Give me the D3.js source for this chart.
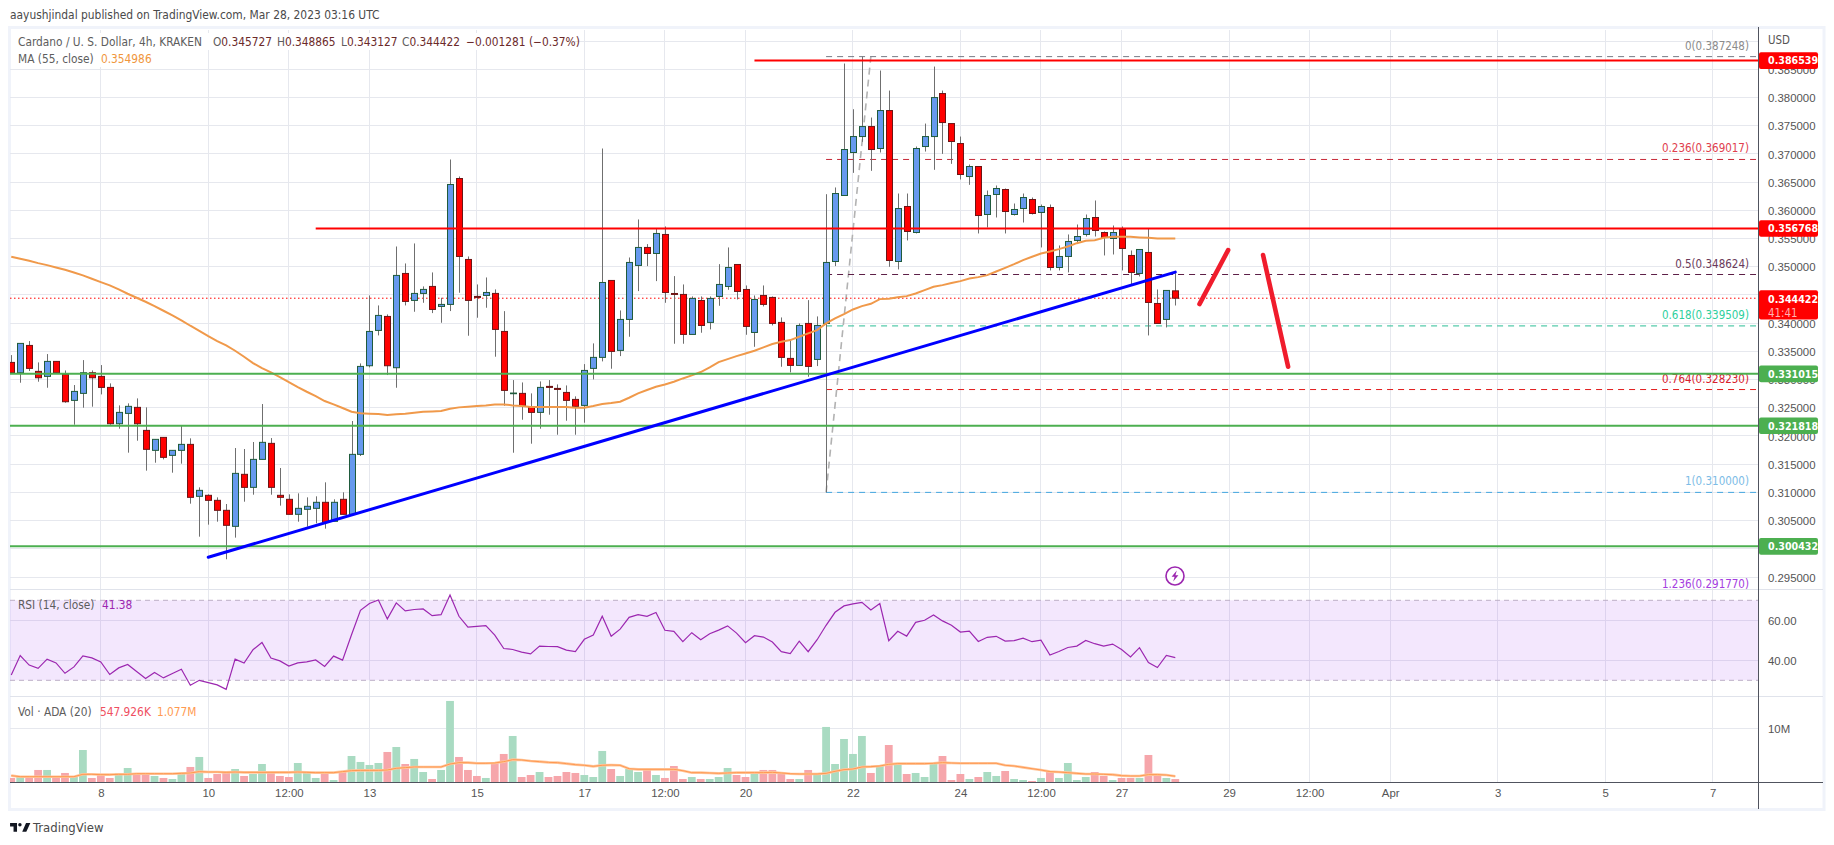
<!DOCTYPE html>
<html>
<head>
<meta charset="utf-8">
<title>Cardano / U.S. Dollar, 4h</title>
<script src="https://cdn.jsdelivr.net/npm/d3@7/dist/d3.min.js"></script>
<style>
  html, body { margin: 0; padding: 0; background: #fff; overflow: hidden; }
  svg { display: block; font-family: "DejaVu Sans Condensed", "DejaVu Sans", sans-serif; font-stretch: condensed; }
  text { font-size: 11.4px; fill: #555; }
  .tick text { font-size: 11.4px; fill: #555; }
</style>
</head>
<body>
<svg id="chart" width="1834" height="845"></svg>
<script>
// ADA/USD 4h candles, oldest first; the last bar closes the series at 28 Mar 00:00 UTC.
const opens = [
  .33304,.33121,.33605,.33145,.33056,.33322,.33092,.32631,.32755,.33121,
  .33056,.32861,.32217,.324,.32507,.32099,.31745,.31975,.31656,.31745,
  .31851,.3093,.30948,.30859,.30682,.30398,.3132,.31089,.31585,.31869,
  .30948,.30877,.30611,.307,.30717,.30824,.30487,.30877,.30611,.31674,
  .33245,.33871,.34119,.3321,.34881,.34403,.34527,.34651,.34296,.34332,
  .36564,.35129,.34474,.34491,.34527,.33853,.32749,.32755,.32507,.32418,
  .32879,.32843,.32772,.32648,.32542,.33198,.33393,.34757,.33517,.34066,
  .35023,.35342,.35235,.35572,.34526,.34509,.338,.34402,.34013,.34473,
  .3465,.3504,.34597,.33835,.34491,.34456,.34013,.33375,.33251,.33995,
  .33357,.33995,.35093,.36263,.37025,.37308,.37485,.37096,.37769,.35093,
  .36068,.35607,.37131,.37308,.3807,.37538,.37184,.36599,.36777,.35926,
  .36281,.36369,.35926,.36032,.36192,.35962,.3605,.34987,.35182,.35466,
  .35572,.35873,.35607,.35501,.3566,.352,.34881,.35253,.34349,.34066,.345727
];
const highs = [
  .33434,.33641,.33682,.33304,.33452,.33322,.33162,.32903,.33345,.33162,
  .33257,.32932,.32542,.32578,.32666,.32507,.3194,.31975,.31745,.32176,
  .31958,.31089,.30965,.30912,.30794,.31786,.31769,.31893,.32566,.31963,
  .31432,.30965,.30983,.30912,.3093,.31178,.30877,.31001,.32265,.33286,
  .34491,.34314,.34155,.35359,.35058,.35413,.34651,.34899,.3445,.36901,
  .366,.35182,.34686,.3481,.34598,.34213,.32991,.32949,.32755,.32967,
  .32991,.32914,.32896,.32702,.33274,.33641,.37096,.34757,.34225,.35164,
  .35838,.35401,.35672,.35714,.34834,.34686,.34473,.34473,.34473,.35046,
  .35342,.3504,.34668,.34491,.34668,.34473,.34101,.33711,.33995,.34408,
  .34119,.36286,.36405,.38602,.37792,.387248,.37645,.38478,.38123,.36298,
  .36298,.37131,.37538,.38548,.38123,.37538,.37308,.36812,.36777,.36351,
  .3644,.36387,.36121,.36298,.36227,.36103,.36103,.35377,.35572,.35749,
  .35926,.36174,.35625,.35731,.35714,.35288,.35306,.35678,.34597,.3458,.348865
];
const lows = [
  .33121,.32944,.33151,.32962,.32855,.33121,.32589,.322,.32501,.32519,
  .32737,.322,.32129,.31704,.31916,.31385,.31526,.31585,.31349,.31509,
  .308,.30215,.30428,.30481,.29814,.30198,.30835,.30959,.31585,.30959,
  .30765,.30611,.30481,.30392,.30452,.30357,.30487,.30611,.30611,.31645,
  .33216,.33783,.3308,.32855,.34314,.34202,.34361,.34178,.34007,.34214,
  .34539,.33777,.34096,.34273,.33405,.32536,.31703,.32288,.31863,.32129,
  .32377,.32022,.3227,.32022,.32235,.33003,.33322,.33192,.33416,.33759,
  .34568,.35011,.34745,.34361,.33635,.33635,.338,.3383,.33889,.34308,
  .34591,.3442,.33794,.33581,.34296,.33959,.33227,.33127,.33251,.3305,
  .33239,.31,.35011,.36263,.36664,.37214,.367,.37025,.34999,.34952,
  .35466,.3559,.37042,.36718,.37001,.36824,.36546,.36452,.3559,.35696,
  .35873,.3559,.35908,.35784,.35926,.35342,.34934,.34934,.34899,.3543,
  .35536,.35536,.352,.35217,.34934,.34686,.34828,.33782,.33995,.33924,.343127
];
const closes = [
  .33121,.33641,.33198,.33032,.33322,.33121,.32607,.3279,.33121,.33032,
  .32861,.32217,.32418,.32525,.32217,.31763,.3194,.31621,.31745,.31851,
  .30912,.31036,.30859,.30682,.30416,.31337,.31089,.31585,.31887,.31089,
  .30912,.30611,.30717,.30753,.30824,.30469,.30824,.30611,.31674,.33233,
  .33853,.34137,.33245,.34846,.34385,.34527,.34598,.34243,.34332,.36458,
  .35182,.34403,.34456,.34544,.33889,.32808,.32761,.32536,.32418,.32861,
  .32861,.32825,.32631,.32524,.33162,.33393,.34721,.33499,.34066,.35076,
  .35342,.35235,.3559,.34544,.34509,.338,.34438,.33959,.34438,.34686,
  .34987,.34562,.33942,.3442,.34332,.33995,.33393,.33251,.33959,.33233,
  .33959,.35076,.36298,.37078,.37308,.37485,.37078,.37769,.35111,.36032,
  .35625,.37096,.37308,.37999,.37556,.3722,.36635,.36777,.35908,.36263,
  .36387,.35979,.36015,.36227,.35944,.36068,.34987,.35182,.35448,.35536,
  .35855,.35643,.35519,.35607,.35324,.34899,.35306,.34367,.33995,.3458,.344422
];
// 55-period moving average of the close.
const ma55 = [
  .35176,.35141,.35106,.35064,.35029,.34987,.34946,.34899,.34846,.34787,
  .34728,.34669,.34598,.34521,.3445,.34379,.34302,.3422,.34137,.34048,
  .33954,.33865,.33771,.33682,.33605,.33511,.33405,.33292,.33204,.33127,
  .33044,.32956,.32867,.32784,.32708,.32619,.3256,.32495,.3243,.32401,
  .32395,.32389,.32371,.32383,.32395,.32412,.3243,.32436,.32442,.32483,
  .32507,.32519,.32531,.32542,.3256,.3256,.32542,.3253,.32513,.32513,
  .32513,.32513,.32513,.32501,.32501,.3253,.32566,.32583,.32607,.32678,
  .32755,.32814,.32873,.32914,.32961,.3302,.33074,.33133,.33215,.3331,
  .33363,.33416,.33463,.33511,.3357,.33629,.3367,.337,.33759,.33818,
  .33877,.33995,.34083,.3416,.34243,.34302,.34343,.34426,.34432,.34461,
  .34479,.34526,.34585,.34645,.34674,.3471,.34745,.34792,.34816,.34851,
  .34916,.34981,.35046,.35117,.35176,.35235,.35271,.35312,.35359,.35418,
  .3546,.35471,.35513,.3553,.3553,.3553,.3552,.35513,.35501,.35501,.354986
];
// RSI(14) of the close.
const rsi14 = [
  32.7,42.4,37.6,36,40.6,38.7,33.5,36.7,42.2,41.2,
  39.2,32.9,36.2,37.9,34.4,30.9,33.9,31.2,33.4,35.5,
  27.5,30,28.8,27.7,25.5,40.6,38.6,45.3,48.9,41.1,
  39.7,37.1,38.7,39.2,40.2,36.9,42.1,40.1,52.8,65,
  68.4,70.2,60.7,68.7,64.7,65.4,65.7,62.3,62.8,72.7,
  62,56.6,57,57.3,52.6,45.9,45.4,44.1,43.2,47.1,
  46.9,46.8,45.1,44.3,50.5,52.6,62,52,55.6,61.5,
  62.8,62,63.9,55,54.5,49.3,53.8,50.3,53.3,55.1,
  57.2,53.6,48.8,52.3,51.6,49.1,44.3,43.4,49.6,44.3,
  50.3,57.5,64,67.2,68.2,69,65.2,68.4,49.8,54.5,
  52.1,59,60,62.7,59.7,57.5,54.1,54.6,49.4,51.5,
  52,49.6,49.8,51.1,49.3,50.1,42.6,44.4,46.4,47.1,
  49.9,48.3,47.1,48.1,45.4,41.7,46.3,38.9,36.4,42.4,41.38
];
// Traded volume, in millions of ADA.
const volumes = [
  .75,1.12,.75,2.24,2.24,.75,1.68,1.12,5.96,.75,
  1.3,.75,1.68,2.61,1.49,1.68,1.12,.75,.56,1.68,
  2.8,4.66,.75,1.49,1.86,2.42,1.12,1.49,3.35,2.05,
  1.12,.93,3.54,1.68,.75,1.49,.37,2.05,4.84,3.73,
  3.17,3.54,5.59,6.52,3.35,4.29,1.86,.56,2.24,15.09,
  4.66,2.24,1.12,.75,3.54,5.22,8.57,.93,1.3,1.86,
  .93,1.12,1.86,1.68,1.3,.93,5.78,2.42,1.12,2.42,
  1.86,2.42,1.3,.75,2.98,.56,.93,.56,.56,.93,
  2.61,1.3,.93,1.68,2.24,2.24,1.86,.56,.56,2.24,
  1.68,10.25,3.35,8.01,5.22,8.57,1.68,3.17,6.89,3.54,
  1.49,1.68,.93,3.54,4.84,.37,1.49,.56,.93,1.86,
  1.12,2.05,.56,.37,.19,.75,2.05,.75,3.54,.37,
  .93,1.86,1.12,.37,.75,.75,.75,5.03,1.12,.75,.547926
];
// 20-period moving average of the volume, in millions.
const volumeMa = [
  1.18,.99,.99,.99,.99,.99,.99,.99,1.43,1.43,
  1.37,1.37,1.43,1.43,1.55,1.55,1.55,1.55,1.55,1.61,
  1.68,1.93,1.86,1.86,1.8,1.86,1.8,1.8,1.8,1.8,
  1.8,1.8,1.86,1.8,1.74,1.74,1.74,1.93,2.11,2.17,
  2.17,2.17,2.24,2.55,2.67,2.8,2.8,2.8,2.8,3.35,
  3.6,3.6,3.48,3.48,3.54,3.79,4.16,4.1,3.91,3.79,
  3.66,3.6,3.42,3.23,3.11,2.92,3.11,3.17,3.11,2.48,
  2.36,2.36,2.36,2.36,2.36,2.11,1.74,1.74,1.68,1.61,
  1.68,1.74,1.74,1.74,1.74,1.8,1.68,1.55,1.49,1.49,
  1.49,1.61,1.99,2.3,2.42,2.8,2.86,2.98,3.29,3.42,
  3.42,3.42,3.42,3.48,3.6,3.54,3.48,3.48,3.48,3.48,
  3.48,3.11,2.98,2.73,2.48,2.24,1.93,1.86,1.74,1.61,
  1.49,1.49,1.43,1.37,1.18,1.12,1.12,1.37,1.37,1.3,1.077
];

const priceTicks = [.295,.3,.305,.31,.315,.32,.325,.33,.335,.34,.345,.35,.355,.36,.365,.37,.375,.38,.385];
const rsiTicks = [40, 60];
const volumeTicks = [10];
// Time axis: label and day of March 2023 (12:00 marks fall on half days).
const timeLabels = ["8","10","12:00","13","15","17","12:00","20","22","24","12:00","27","29","12:00","Apr","3","5","7"];
const timeDays = [8,10,11.5,13,15,17,18.5,20,22,24,25.5,27,29,30.5,32,34,36,38];

// Horizontal support and resistance levels.
const resistanceLevels = [.386539, .356768];
const supportLevels = [.331015, .321818, .300432];
const levelStartBars = [83, 34, 0, 0, 0];

// Fibonacci retracement, anchored between bars 91 and 96.
const fibRatios = ["0","0.236","0.5","0.618","0.764","1","1.236"];
const fibPrices = [.387248,.369017,.348624,.339509,.32823,.31,.29177];
const fibColors = ["#787b86","#c62838","#5d1f47","#2bbd95","#e31c1c","#42a5e0","#9c27d8"];
const fibTextColors = ["#8b8b8b","#e0404e","#6b3a5a","#2fcf9d","#d8202c","#7cbce6","#a43de0"];

// Hand-drawn annotations in bar/price coordinates.
const trendFrom = { bar: 22, price: .2985 };
const trendTo = { bar: 130, price: .34905 };
const arrowUp = [{ bar: 132.7, price: .34338 }, { bar: 135.9, price: .35294 }];
const arrowDown = [{ bar: 139.8, price: .35206 }, { bar: 142.6, price: .33227 }];

const lastDay = 28;
const barDate = i => new Date(Date.UTC(2023, 2, 1) + (lastDay - 1 - (opens.length - 1 - i) / 6) * 864e5);
const dayDate = d => new Date(Date.UTC(2023, 2, 1) + (d - 1) * 864e5);

const plot = { left: 10, right: 1758, top: 30, mainBottom: 589, rsiBottom: 696, bottom: 782, outer: 1823 };

const x = d3.scaleUtc().domain([dayDate(8), dayDate(28)]).range([100.8, 1175.3]);
const xBar = i => x(barDate(i));
const yPrice = d3.scaleLinear().domain([.295, .385]).range([577, 69.3]);
const yRsi = d3.scaleLinear().domain([30, 70]).range([680.3, 600.3]);
const yVol = d3.scaleLinear().domain([0, 10]).range([plot.bottom, 728.3]);

const svg = d3.select("#chart");
const GRID = "#e6e8ee";

const defs = svg.append("defs");
const clip = (id, y0, y1) => defs.append("clipPath").attr("id", id).append("rect")
  .attr("x", plot.left).attr("y", y0).attr("width", plot.right - plot.left).attr("height", y1 - y0);
clip("clip-main", plot.top, plot.mainBottom);
clip("clip-rsi", plot.mainBottom, plot.rsiBottom);
clip("clip-vol", plot.rsiBottom, plot.bottom);

// Outer frame.
svg.append("rect").attr("x", 9.5).attr("y", 27.5).attr("width", 1814.5).attr("height", 782)
  .attr("fill", "none").attr("stroke", "#f0f3fa").attr("stroke-width", 3);

// Publication header.
svg.append("text").attr("x", 10).attr("y", 19).style("font-size", "11.9px").style("fill", "#4a4a4a")
  .text("aayushjindal published on TradingView.com, Mar 28, 2023 03:16 UTC");

// Grid.
const grid = svg.append("g").attr("stroke", GRID).attr("stroke-width", 1).attr("shape-rendering", "crispEdges");
grid.selectAll(".v").data(timeDays).join("line")
  .attr("x1", d => x(dayDate(d))).attr("x2", d => x(dayDate(d)))
  .attr("y1", plot.top).attr("y2", plot.bottom);
grid.selectAll(".p").data(priceTicks).join("line")
  .attr("x1", plot.left).attr("x2", plot.right).attr("y1", d => yPrice(d)).attr("y2", d => yPrice(d));
grid.append("line").attr("x1", 572).attr("x2", plot.right).attr("y1", yPrice(.39)).attr("y2", yPrice(.39));
grid.selectAll(".r").data(rsiTicks).join("line")
  .attr("x1", plot.left).attr("x2", plot.right).attr("y1", d => yRsi(d)).attr("y2", d => yRsi(d));
grid.selectAll(".m").data(volumeTicks).join("line")
  .attr("x1", plot.left).attr("x2", plot.right).attr("y1", d => yVol(d)).attr("y2", d => yVol(d));

// Pane separators, running through the scale strip.
svg.append("g").attr("stroke", "#e0e3eb").attr("stroke-width", 1).attr("shape-rendering", "crispEdges")
  .selectAll("line").data([plot.mainBottom, plot.rsiBottom]).join("line")
  .attr("x1", plot.left).attr("x2", plot.outer).attr("y1", d => d + .5).attr("y2", d => d + .5);

// White patches that keep the legend readable over the grid.
const patches = svg.append("g").attr("fill", "#fff");
patches.append("rect").attr("x", 14).attr("y", 33).attr("width", 558).attr("height", 17);
patches.append("rect").attr("x", 14).attr("y", 50).attr("width", 148).attr("height", 17);

// RSI pane.
const rsiPane = svg.append("g").attr("clip-path", "url(#clip-rsi)");
rsiPane.append("rect").attr("x", plot.left).attr("width", plot.right - plot.left)
  .attr("y", yRsi(70)).attr("height", yRsi(30) - yRsi(70)).attr("fill", "rgba(160,60,240,.12)");
rsiPane.selectAll(".band").data([70, 30]).join("line")
  .attr("x1", plot.left).attr("x2", plot.right).attr("y1", d => yRsi(d)).attr("y2", d => yRsi(d))
  .attr("stroke", "#bcaec6").attr("stroke-width", 1).attr("stroke-dasharray", "5 4");
rsiPane.append("path").datum(rsi14)
  .attr("d", d3.line().x((d, i) => xBar(i)).y(d => yRsi(d)))
  .attr("fill", "none").attr("stroke", "#9c27b0").attr("stroke-width", 1.2);

// Volume pane.
const volPane = svg.append("g").attr("clip-path", "url(#clip-vol)");
volPane.selectAll("rect").data(volumes).join("rect")
  .attr("x", (d, i) => xBar(i) - 3.9).attr("width", 7.8)
  .attr("y", d => yVol(d)).attr("height", d => yVol(0) - yVol(d))
  .attr("fill", (d, i) => closes[i] >= opens[i] ? "#a9dbc2" : "#f6a6ab");
const volLine = d3.line().x((d, i) => xBar(i)).y(d => yVol(d));
volPane.append("path").datum(volumeMa).attr("d", volLine)
  .attr("fill", "none").attr("stroke", "#ffc79c").attr("stroke-width", 2.6);
volPane.append("path").datum(volumeMa).attr("d", volLine)
  .attr("fill", "none").attr("stroke", "#ff9850").attr("stroke-width", 1);

// Main pane.
const main = svg.append("g").attr("clip-path", "url(#clip-main)");

// Fibonacci levels and their labels.
const fibStart = xBar(91);
const fibEnd = 1756;
main.append("line").attr("x1", xBar(91)).attr("y1", yPrice(fibPrices[5])).attr("x2", xBar(96)).attr("y2", yPrice(fibPrices[0]))
  .attr("stroke", "#b2b2b2").attr("stroke-width", 1.6).attr("stroke-dasharray", "7 5");
main.selectAll(".fib").data(fibPrices).join("line")
  .attr("x1", fibStart).attr("x2", fibEnd).attr("y1", d => yPrice(d)).attr("y2", d => yPrice(d))
  .attr("stroke", (d, i) => fibColors[i]).attr("stroke-width", 1).attr("stroke-dasharray", "6 5");
main.selectAll(".fibLabel").data(fibPrices).join("text")
  .attr("x", 1749).attr("y", d => yPrice(d) - 7).attr("text-anchor", "end")
  .style("font-size", "11.5px").style("fill", (d, i) => fibTextColors[i])
  .text((d, i) => fibRatios[i] + "(" + d3.format(".6f")(d) + ")");

// Last price marker.
main.append("line").attr("x1", plot.left).attr("x2", plot.right)
  .attr("y1", yPrice(closes[closes.length - 1])).attr("y2", yPrice(closes[closes.length - 1]))
  .attr("stroke", "#ff0000").attr("stroke-width", 1).attr("stroke-dasharray", "1.5 2.5");

// Candles.
const candles = main.append("g").selectAll("g").data(opens).join("g");
candles.append("line")
  .attr("x1", (d, i) => Math.round(xBar(i)) + .5).attr("x2", (d, i) => Math.round(xBar(i)) + .5)
  .attr("y1", (d, i) => yPrice(highs[i])).attr("y2", (d, i) => yPrice(lows[i]))
  .attr("stroke", "#6f6f6f").attr("stroke-width", 1);
candles.append("rect")
  .attr("x", (d, i) => Math.round(xBar(i)) - 2.5).attr("width", 6)
  .attr("y", (d, i) => yPrice(Math.max(opens[i], closes[i])))
  .attr("height", (d, i) => Math.abs(yPrice(opens[i]) - yPrice(closes[i])))
  .attr("fill", (d, i) => closes[i] >= opens[i] ? "#6699ee" : "#ff0000")
  .attr("stroke", (d, i) => closes[i] >= opens[i] ? "#1f5b3c" : "#6e1414")
  .attr("stroke-width", 1);

// Moving average.
main.append("path").datum(ma55)
  .attr("d", d3.line().x((d, i) => xBar(i)).y(d => yPrice(d)))
  .attr("fill", "none").attr("stroke", "#f0994a").attr("stroke-width", 2);

// Horizontal levels.
const levels = resistanceLevels.concat(supportLevels);
main.selectAll(".level").data(levels).join("line")
  .attr("x1", (d, i) => xBar(levelStartBars[i]) - (levelStartBars[i] ? 0 : 12)).attr("x2", plot.right)
  .attr("y1", d => yPrice(d)).attr("y2", d => yPrice(d))
  .attr("stroke", (d, i) => i < resistanceLevels.length ? "#ff0000" : "#4caf50").attr("stroke-width", 2);

// Rising trend line.
main.append("line").attr("x1", xBar(trendFrom.bar)).attr("y1", yPrice(trendFrom.price))
  .attr("x2", xBar(trendTo.bar)).attr("y2", yPrice(trendTo.price))
  .attr("stroke", "#0000ff").attr("stroke-width", 3).attr("stroke-linecap", "round");

// Projected path.
const barX = d3.scaleLinear().domain([0, 130]).range([xBar(0), xBar(130)]);
main.selectAll(".arrow").data([arrowUp, arrowDown]).join("line")
  .attr("x1", d => barX(d[0].bar)).attr("y1", d => yPrice(d[0].price))
  .attr("x2", d => barX(d[1].bar)).attr("y2", d => yPrice(d[1].price))
  .attr("stroke", "#f01c2c").attr("stroke-width", 4.6).attr("stroke-linecap", "round");

// Alert badge.
const badge = main.append("g").attr("transform", "translate(1175,576)");
badge.append("circle").attr("r", 9).attr("fill", "#fff").attr("stroke", "#9c27b0").attr("stroke-width", 1.6);
badge.append("path").attr("d", "M1.8,-5.4 L-3.4,0.8 L-0.4,0.8 L-1.8,5.4 L3.4,-0.8 L0.4,-0.8 Z").attr("fill", "#9c27b0");

// Legends.
const legendText = (px, py, str, fill) => svg.append("text").attr("x", px).attr("y", py)
  .style("font-size", "11.8px").style("fill", fill || "#5d5d5d").text(str);
legendText(18, 46, "Cardano / U. S. Dollar, 4h, KRAKEN");
const ohlc = [["O", 213, "0.345727"], ["H", 277, "0.348865"], ["L", 341, "0.343127"], ["C", 402, "0.344422"]];
ohlc.forEach(([k, px, v]) => {
  const t = legendText(px, 46, k);
  t.append("tspan").style("fill", "#6b2a2a").text(v);
});
legendText(466, 46, "\u22120.001281 (\u22120.37%)", "#6b2a2a");
legendText(18, 63, "MA (55, close)");
legendText(101, 63, "0.354986", "#f0963c");
legendText(18, 609, "RSI (14, close)");
legendText(102, 609, "41.38", "#9c27b0");
legendText(18, 716, "Vol \u00b7 ADA (20)");
legendText(100, 716, "547.926K", "#ef4f5f");
legendText(157, 716, "1.077M", "#ff9a50");

// Right-hand scales.
const axisStyle = g => {
  g.select(".domain").remove();
  g.selectAll(".tick line").remove();
  g.selectAll(".tick text").attr("x", 0).attr("dy", ".36em").attr("text-anchor", "start");
};
svg.append("g").attr("transform", "translate(1768,0)")
  .call(d3.axisRight(yPrice).tickValues(priceTicks).tickFormat(d3.format(".6f"))).call(axisStyle);
svg.append("g").attr("transform", "translate(1768,0)")
  .call(d3.axisRight(yRsi).tickValues(rsiTicks).tickFormat(d3.format(".2f"))).call(axisStyle);
svg.append("g").attr("transform", "translate(1768,0)")
  .call(d3.axisRight(yVol).tickValues(volumeTicks).tickFormat(d => d + "M")).call(axisStyle);
svg.append("text").attr("x", 1768).attr("y", 44).text("USD");

// Time scale.
const tickIndex = new Map(timeDays.map((d, i) => [+dayDate(d), timeLabels[i]]));
svg.append("g").attr("transform", "translate(0,786)")
  .call(d3.axisBottom(x).tickValues(timeDays.map(dayDate)).tickFormat(d => tickIndex.get(+d)).tickSize(0).tickPadding(3))
  .call(g => g.select(".domain").remove());

// Axis rules.
const rules = svg.append("g").attr("stroke", "#50535e").attr("stroke-width", 1).attr("shape-rendering", "crispEdges");
rules.append("line").attr("x1", plot.right + .5).attr("x2", plot.right + .5).attr("y1", plot.top - 3).attr("y2", 809);
rules.append("line").attr("x1", plot.left).attr("x2", plot.outer).attr("y1", plot.bottom + .5).attr("y2", plot.bottom + .5);

// Level tags on the price scale.
const tags = svg.append("g");
tags.selectAll("rect").data(levels).join("rect")
  .attr("x", plot.right + 1).attr("width", 59).attr("y", d => yPrice(d) - 8.3).attr("height", 16.6).attr("rx", 2)
  .attr("fill", (d, i) => i < resistanceLevels.length ? "#ff0000" : "#4caf50");
tags.selectAll("text").data(levels).join("text")
  .attr("x", 1768).attr("y", d => yPrice(d)).attr("dy", ".36em")
  .style("fill", "#fff").style("font-weight", "bold").style("font-size", "10.6px").text(d => d3.format(".6f")(d));

// Last price tag with the bar countdown.
const lastY = yPrice(closes[closes.length - 1]);
tags.append("rect").attr("x", plot.right + 1).attr("width", 59).attr("y", lastY - 8).attr("height", 29.3).attr("rx", 2).attr("fill", "#ff0000");
tags.append("text").attr("x", 1768).attr("y", lastY + .7).attr("dy", ".36em").style("fill", "#fff").style("font-weight", "bold").style("font-size", "10.6px").text(d3.format(".6f")(closes[closes.length - 1]));
tags.append("text").attr("x", 1768).attr("y", lastY + 14.3).attr("dy", ".36em").style("fill", "#ffb3b3").text("41:41");

// Footer mark.
svg.append("path").attr("transform", "translate(8.9,819.5) scale(.58)")
  .attr("d", "M14 6H2v6h6v9h6V6Zm16 15h-7l6.5-15H37l-7 15ZM22 9a3 3 0 1 1-6 0 3 3 0 0 1 6 0Z").attr("fill", "#131722");
svg.append("text").attr("x", 33).attr("y", 832).style("font-size", "13px").style("fill", "#4a4a4a").text("TradingView");
</script>
</body>
</html>
